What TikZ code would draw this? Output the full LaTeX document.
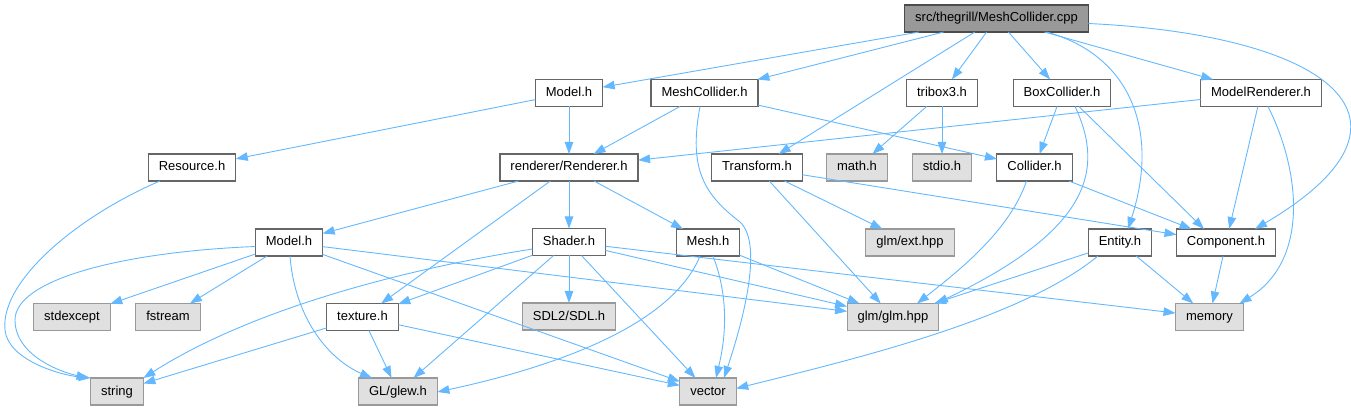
\documentclass[tikz,border=0pt]{standalone}
\usepackage{fontspec}
\setmainfont{Liberation Sans}
\usepackage{xcolor}
\usepackage{tikz}
\usetikzlibrary{arrows.meta,positioning}

\definecolor{edgeblue}{HTML}{63B8FF}
\definecolor{rootgray}{HTML}{999999}
\definecolor{extgray}{HTML}{E0E0E0}

\begin{document}
\begin{tikzpicture}[
    x=1pt, y=-1pt,
    node distance=47.5pt and 12pt,
    every node/.style={font=\fontsize{13}{15}\selectfont, outer sep=0pt},
    srcfile/.style={draw=gray!60!black, line width=1.1pt, fill=rootgray, minimum height=27pt, inner xsep=10.5pt, text height=9.5pt, text depth=2.5pt},
    hdrfile/.style={draw=black!60, line width=1.1pt, fill=white, minimum height=27pt, inner xsep=10.5pt, text height=9.5pt, text depth=2.5pt},
    extfile/.style={draw=rootgray, line width=1.1pt, fill=extgray, minimum height=27pt, inner xsep=10.5pt, text height=9.5pt, text depth=2.5pt},
    arrow/.style={-{Triangle[length=12pt,width=8.5pt]}, draw=edgeblue, line width=0.9pt}
  ]
    \useasboundingbox (0,0) rectangle (1351,411);

    \node[srcfile] (cpp) at (996.5,18.5) {src/thegrill/MeshCollider.cpp};

    \node[hdrfile] (modela) at (569,93) {Model.h};
    \node[hdrfile] (mcolh) at (704.5,93) {MeshCollider.h};
    \node[hdrfile] (tribox) at (942,93) {tribox3.h};
    \node[hdrfile] (boxcol) at (1062,93) {BoxCollider.h};
    \node[hdrfile] (mrend) at (1261,93) {ModelRenderer.h};

    \node[hdrfile] (resource) at (192,167.5) {Resource.h};
    \node[hdrfile, below=of modela] (renderer) {renderer/Renderer.h};
    \node[hdrfile] (transform) at (757,167.5) {Transform.h};
    \node[extfile] (mathh) at (857,167.5) {math.h};
    \node[extfile, below=of tribox] (stdio) {stdio.h};
    \node[hdrfile] (collider) at (1034.5,167.5) {Collider.h};

    \node[hdrfile] (modelb) at (289,242.5) {Model.h};
    \node[hdrfile, below=of renderer] (shader) {Shader.h};
    \node[hdrfile] (mesh) at (708,242.5) {Mesh.h};
    \node[extfile] (glmext) at (910,242.5) {glm/ext.hpp};
    \node[hdrfile] (entity) at (1120,242.5) {Entity.h};
    \node[hdrfile] (component) at (1226,242.5) {Component.h};

    \node[extfile] (stdexcept) at (72,317) {stdexcept};
    \node[extfile] (fstream) at (168,317) {fstream};
    \node[hdrfile] (texture) at (362.5,317) {texture.h};
    \node[extfile, below=of shader] (sdl) {SDL2/SDL.h};
    \node[extfile] (glm) at (893,317) {glm/glm.hpp};
    \node[extfile] (memory) at (1209.5,317) {memory};

    \node[extfile] (string) at (117,391.5) {string};
    \node[extfile] (glew) at (398,391.5) {GL/glew.h};
    \node[extfile] (vector) at (708,391.5) {vector};

    % MeshCollider.cpp
    \draw[arrow] (cpp) -- (modela);
    \draw[arrow] (cpp) -- (mcolh);
    \draw[arrow] (cpp) -- (transform);
    \draw[arrow] (cpp) -- (tribox);
    \draw[arrow] (cpp) -- (boxcol);
    \draw[arrow] (cpp) -- (mrend);
    \draw[arrow] ([xshift=50pt]cpp.south) .. controls (1130,55) and (1160,130) .. ([xshift=8pt]entity.north);
    \draw[arrow] ([yshift=-5pt]cpp.east) .. controls (1330,35) and (1440,120) .. ([xshift=29pt]component.north);

    % first row
    \draw[arrow] (modela) -- (resource);
    \draw[arrow] (modela) -- (renderer);
    \draw[arrow] (mcolh) -- (renderer);
    \draw[arrow] (mcolh) -- (collider);
    \draw[arrow] ([xshift=-4.5pt]mcolh.south) .. controls (688,170) and (705,195) .. (740,222)
                 .. controls (765,245) and (740,330) .. ([xshift=16pt]vector.north);
    \draw[arrow] (tribox) -- (mathh);
    \draw[arrow] (tribox) -- (stdio);
    \draw[arrow] (boxcol) -- (collider);
    \draw[arrow] ([xshift=13pt]boxcol.south) .. controls (1105,170) and (1090,230) .. ([xshift=43pt]glm.north);
    \draw[arrow] ([xshift=17pt]boxcol.south) -- ([xshift=-22pt]component.north);
    \draw[arrow] (mrend) -- (renderer);
    \draw[arrow] (mrend) -- (component);
    \draw[arrow] ([xshift=7pt]mrend.south) .. controls (1300,170) and (1310,260) .. ([xshift=30pt]memory.north);

    % second row
    \draw[arrow] ([xshift=-32pt]resource.south) .. controls (80,215) and (0,280) .. (5,330)
                 .. controls (8,360) and (60,375) .. (string.north west);
    \draw[arrow] (renderer) -- (modelb);
    \draw[arrow] (renderer) -- (shader);
    \draw[arrow] (renderer) -- (mesh);
    \draw[arrow] (renderer) -- (texture);
    \draw[arrow] (transform) -- (glmext);
    \draw[arrow] (transform) -- (glm);
    \draw[arrow] (transform) -- (component);
    \draw[arrow] (collider) -- (component);
    \draw[arrow] ([xshift=-8pt]collider.south) .. controls (1010,230) and (960,270) .. ([xshift=24pt]glm.north);

    % third row
    \draw[arrow] ([yshift=-4pt]modelb.west) .. controls (120,252) and (15,280) .. (15,320)
                 .. controls (15,355) and (60,372) .. ([xshift=-2pt]string.north west);
    \draw[arrow] (modelb) -- (stdexcept);
    \draw[arrow] (modelb) -- (fstream);
    \draw[arrow] ([xshift=1pt]modelb.south) .. controls (295,320) and (330,360) .. ([xshift=-26pt]glew.north);
    \draw[arrow] (modelb) -- (vector);
    \draw[arrow] (modelb) -- (glm);
    \draw[arrow] ([yshift=-7pt]shader.west) .. controls (400,270) and (250,310) .. (string.north east);
    \draw[arrow] (shader) -- (texture);
    \draw[arrow] (shader) -- (glew);
    \draw[arrow] (shader) -- (sdl);
    \draw[arrow] (shader) -- (vector);
    \draw[arrow] (shader) -- (glm);
    \draw[arrow] (shader) -- (memory);
    \draw[arrow] ([xshift=-8pt]mesh.south) .. controls (670,330) and (540,370) .. ([yshift=-0.5pt]glew.east);
    \draw[arrow] ([xshift=5pt]mesh.south) .. controls (730,300) and (725,340) .. ([xshift=8pt]vector.north);
    \draw[arrow] (mesh) -- (glm);
    \draw[arrow] (entity) -- (glm);
    \draw[arrow] ([xshift=-22pt]entity.south) .. controls (1020,320) and (850,360) .. ([yshift=3pt]vector.east);
    \draw[arrow] (entity) -- (memory);
    \draw[arrow] (component) -- (memory);

    % fourth row
    \draw[arrow] (texture) -- (string);
    \draw[arrow] (texture) -- (glew);
    \draw[arrow] (texture) -- (vector);
  \end{tikzpicture}
\end{document}
